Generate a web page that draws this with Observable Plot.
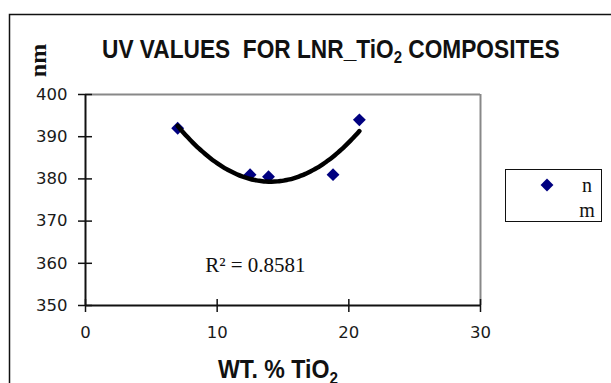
<!DOCTYPE html>
<html>
<head>
<meta charset="utf-8">
<script src="https://cdn.jsdelivr.net/npm/d3@7"></script>
<script src="https://cdn.jsdelivr.net/npm/@observablehq/plot@0.6"></script>
<style>
  html, body { margin: 0; padding: 0; background: #fff; overflow: hidden; }
  #chart { position: relative; width: 611px; height: 383px; }
</style>
</head>
<body>
<div id="chart"></div>
<script>
// ---- data ----
const wtTiO2 = [7, 12.5, 13.9, 18.8, 20.8];          // WT. % TiO2
const uvNm   = [392, 381, 380.5, 381, 394];           // UV value, nm
const xTicks = [0, 10, 20, 30];
const yTicks = [350, 360, 370, 380, 390, 400];
const titleText = "UV VALUES  FOR LNR_TiO";
const titleText2 = " COMPOSITES";
const xTitle = "WT. % TiO";
const yTitle = "nm";
const seriesName = "nm";
const r2Label = "R² = 0.8581";

const points = wtTiO2.map((x, i) => ({x, y: uvNm[i]}));

// second-order polynomial least-squares trendline (as in the spreadsheet)
function polyFit2(xs, ys) {
  const n = xs.length;
  let s = [0,0,0,0,0], t = [0,0,0];
  for (let i = 0; i < n; i++) {
    const x = xs[i], y = ys[i];
    for (let k = 0; k < 5; k++) s[k] += Math.pow(x, k);
    for (let k = 0; k < 3; k++) t[k] += Math.pow(x, k) * y;
  }
  const A = [[s[0], s[1], s[2], t[0]], [s[1], s[2], s[3], t[1]], [s[2], s[3], s[4], t[2]]];
  for (let c = 0; c < 3; c++) {
    let p = c;
    for (let r = c + 1; r < 3; r++) if (Math.abs(A[r][c]) > Math.abs(A[p][c])) p = r;
    [A[c], A[p]] = [A[p], A[c]];
    for (let r = 0; r < 3; r++) if (r !== c) {
      const f = A[r][c] / A[c][c];
      for (let k = c; k < 4; k++) A[r][k] -= f * A[c][k];
    }
  }
  return [A[0][3] / A[0][0], A[1][3] / A[1][1], A[2][3] / A[2][2]];
}
const [c0, c1, c2] = polyFit2(wtTiO2, uvNm);
const xMin = d3.min(wtTiO2), xMax = d3.max(wtTiO2);
const trend = d3.range(0, 61).map(i => {
  const x = xMin + (xMax - xMin) * i / 60;
  return {x, y: c0 + c1 * x + c2 * x * x};
});

const plot = Plot.plot({
  width: 611,
  height: 383,
  marginLeft: 85,
  marginRight: 131,
  marginTop: 94,
  marginBottom: 78,
  style: {fontFamily: "DejaVu Sans, Verdana, sans-serif", fontSize: "16.5px", color: "#1a1a1a", background: "transparent", overflow: "visible"},
  x: {domain: [0, 30], axis: null},
  y: {domain: [350, 400], axis: null},
  marks: [
    Plot.ruleY([400], {stroke: "#888", strokeWidth: 2}),
    Plot.ruleX([30], {stroke: "#888", strokeWidth: 2}),
    Plot.axisY(yTicks, {anchor: "left", tickSize: 14, dx: 7, tickPadding: 11, label: null, stroke: "#111", strokeWidth: 1.5, fontSize: 16.5}),
    Plot.axisX(xTicks, {anchor: "bottom", tickSize: 13, dy: -6, tickPadding: 14, label: null, stroke: "#111", strokeWidth: 1.5, fontSize: 16.5}),
    Plot.ruleX([0], {stroke: "#111", strokeWidth: 2}),
    Plot.ruleY([350], {stroke: "#111", strokeWidth: 2}),
    Plot.dot(points, {x: "x", y: "y", symbol: "diamond2", r: 5.8, fill: "#000080", stroke: "none"}),
    Plot.line(trend, {x: "x", y: "y", stroke: "#000", strokeWidth: 4.5, curve: "natural"}),
    Plot.text([r2Label], {x: 12.9, y: 359.5, text: d => d, fontFamily: "Liberation Serif, Times New Roman, serif", fontSize: 21, fill: "#111", textAnchor: "middle", lineAnchor: "middle"})
  ]
});

document.getElementById("chart").appendChild(plot);

// surrounding chart furniture (titles, legend, outer frame)
const svg = d3.select(plot);
svg.append("path").attr("d", "M9.5,383V14.5H611").attr("fill", "none").attr("stroke", "#111").attr("stroke-width", 1.5);

const narrow = "Liberation Sans Narrow, Arial Narrow, Liberation Sans, sans-serif";
// narrow bold heading: draw, measure, then squeeze horizontally to the reference width
function narrowText(parts, x0, baseline, targetWidth, size) {
  const g = svg.append("g");
  const t = g.append("text")
    .attr("x", 0).attr("y", 0)
    .attr("text-anchor", "start")
    .attr("font-family", narrow).attr("font-weight", "bold").attr("font-size", size)
    .attr("fill", "#111");
  parts.forEach(p => {
    const s = t.append("tspan").text(p.text);
    if (p.sub) s.attr("font-size", size * 0.66).attr("dy", 5.5);
    if (p.back) s.attr("dy", -5.5);
  });
  const w = t.node().getBBox().width;
  const k = w > 0 ? targetWidth / w : 1;
  g.attr("transform", `translate(${x0},${baseline}) scale(${k},1)`);
}
narrowText([{text: titleText}, {text: "2", sub: true}, {text: titleText2, back: true}], 102, 57.5, 458, 25.5);
narrowText([{text: xTitle}, {text: "2", sub: true}], 218, 378, 120, 25);

svg.append("text")
  .attr("transform", "translate(46,60.5) rotate(-90)")
  .attr("text-anchor", "middle")
  .attr("font-family", "Liberation Serif, Times New Roman, serif").attr("font-weight", "bold").attr("font-size", 24)
  .attr("fill", "#111")
  .text(yTitle);

// legend
const lg = svg.append("g");
lg.append("rect").attr("x", 505.5).attr("y", 169.5).attr("width", 96).attr("height", 52)
  .attr("fill", "#fff").attr("stroke", "#111").attr("stroke-width", 1);
lg.append("path").attr("d", d3.symbol(d3.symbolDiamond2, Math.PI * 5.8 * 5.8)())
  .attr("transform", "translate(547,185)").attr("fill", "#000080");
lg.append("text").attr("x", 587).attr("y", 191.5).attr("text-anchor", "middle")
  .attr("font-family", "Liberation Serif, Times New Roman, serif").attr("font-size", 20).attr("fill", "#111")
  .text(seriesName.slice(0, 1));
lg.append("text").attr("x", 587).attr("y", 216.5).attr("text-anchor", "middle")
  .attr("font-family", "Liberation Serif, Times New Roman, serif").attr("font-size", 20).attr("fill", "#111")
  .text(seriesName.slice(1));
</script>
</body>
</html>
